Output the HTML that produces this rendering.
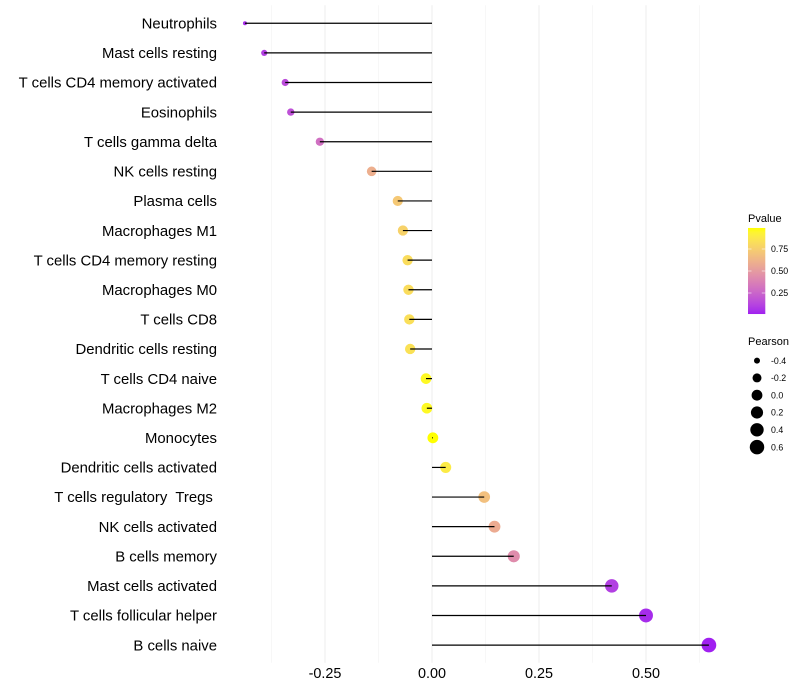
<!DOCTYPE html>
<html>
<head>
<meta charset="utf-8">
<style>
html,body{margin:0;padding:0;background:#fff;width:800px;height:700px;overflow:hidden}
svg{display:block}
text{font-family:"Liberation Sans",sans-serif;white-space:pre}
</style>
</head>
<body>
<svg id="chart" xmlns="http://www.w3.org/2000/svg" width="800" height="700" viewBox="0 0 800 700"></svg>
<script>
const categories = ["Neutrophils","Mast cells resting","T cells CD4 memory activated","Eosinophils","T cells gamma delta","NK cells resting","Plasma cells","Macrophages M1","T cells CD4 memory resting","Macrophages M0","T cells CD8","Dendritic cells resting","T cells CD4 naive","Macrophages M2","Monocytes","Dendritic cells activated","T cells regulatory  Tregs ","NK cells activated","B cells memory","Mast cells activated","T cells follicular helper","B cells naive"];
const pearson = [-0.437,-0.392,-0.343,-0.33,-0.262,-0.141,-0.08,-0.068,-0.057,-0.055,-0.053,-0.051,-0.014,-0.012,0.002,0.032,0.122,0.146,0.191,0.42,0.5,0.647];
const pvalues = [0.05,0.1,0.15,0.17,0.3,0.6,0.72,0.77,0.82,0.82,0.83,0.84,0.96,0.96,0.99,0.89,0.68,0.58,0.43,0.1,0.04,0.01];
const xTicks = [-0.25,0,0.25,0.5];
const xTickLabels = ["-0.25","0.00","0.25","0.50"];
const xMinor = [-0.375,-0.125,0.125,0.375,0.625];
const colorTicks = [0.75,0.5,0.25];
const colorTickLabels = ["0.75","0.50","0.25"];
const sizeLevels = [-0.4,-0.2,0,0.2,0.4,0.6];
const sizeLabels = ["-0.4","-0.2","0.0","0.2","0.4","0.6"];

const NS = "http://www.w3.org/2000/svg";
const svg = document.getElementById("chart");
const panelTop = 5.2, panelBottom = 662.8;
const xScale = v => 432 + 428 * v;
const yScale = i => 23.28 + 29.61 * i;
const pMin = 0.011, pMax = 0.989;
const sMin = -0.437, sMax = 0.647;
const sizeScale = v => {
  const t = Math.max(0, (v - sMin) / (sMax - sMin));
  const s = 1 + 5 * Math.sqrt(t);
  return (2.13 * s + 1.9) / 2;
};
const barY = p => 271 + (0.5 - p) * 88;

function srgb2lin(c){c/=255;return c<=0.04045?c/12.92:Math.pow((c+0.055)/1.055,2.4);}
function lin2srgb(c){c=Math.max(0,Math.min(1,c));return 255*(c<=0.0031308?12.92*c:1.055*Math.pow(c,1/2.4)-0.055);}
function toLab(rgb){
  const r=srgb2lin(rgb[0]),g=srgb2lin(rgb[1]),b=srgb2lin(rgb[2]);
  const X=(0.4124*r+0.3576*g+0.1805*b)/0.95047,Y=0.2126*r+0.7152*g+0.0722*b,Z=(0.0193*r+0.1192*g+0.9505*b)/1.08883;
  const f=t=>t>0.008856?Math.cbrt(t):7.787*t+16/116;
  return [116*f(Y)-16,500*(f(X)-f(Y)),200*(f(Y)-f(Z))];
}
function fromLab(l){
  const fy=(l[0]+16)/116,fx=fy+l[1]/500,fz=fy-l[2]/200;
  const g=t=>t*t*t>0.008856?t*t*t:(t-16/116)/7.787;
  const X=g(fx)*0.95047,Y=g(fy),Z=g(fz)*1.08883;
  const r=3.2406*X-1.5372*Y-0.4986*Z,gg=-0.9689*X+1.8758*Y+0.0415*Z,b=0.0557*X-0.204*Y+1.057*Z;
  return "rgb("+Math.round(lin2srgb(r))+","+Math.round(lin2srgb(gg))+","+Math.round(lin2srgb(b))+")";
}
const labLow = toLab([160,32,240]), labHigh = toLab([255,255,0]);
function colorScale(p){
  const t = Math.max(0, Math.min(1, (p - pMin) / (pMax - pMin)));
  return fromLab([0,1,2].map(k => labLow[k] + (labHigh[k] - labLow[k]) * t));
}
function mk(tag, attrs, parent, txt){
  const el = document.createElementNS(NS, tag);
  for (const k in attrs) el.setAttribute(k, attrs[k]);
  if (txt !== undefined) el.textContent = txt;
  (parent || svg).appendChild(el);
  return el;
}

// minor gridlines
xMinor.forEach(v => {
  const el = mk("line", {x1:xScale(v),x2:xScale(v),y1:panelTop,y2:panelBottom,stroke:"#f5f5f5","stroke-width":0.8});
  
  
});
// major gridlines and tick labels
xTicks.forEach((v, i) => {
  const el = mk("line", {x1:xScale(v),x2:xScale(v),y1:panelTop,y2:panelBottom,stroke:"#eeeeee","stroke-width":1.1});
  
  
  const t = mk("text", {x:xScale(v),y:678,"text-anchor":"middle","font-size":14.4,fill:"#000"}, null, xTickLabels[i]);
  
  
});
// category labels
categories.forEach((c, i) => {
  const t = mk("text", {x:217,y:yScale(i)+5.2,"text-anchor":"end","font-size":14.9,fill:"#000"}, null, c);
  
  
});
// points
categories.forEach((c, i) => {
  const el = mk("circle", {cx:xScale(pearson[i]),cy:yScale(i),r:sizeScale(pearson[i]),fill:colorScale(pvalues[i])});
  
  
});
// stems, drawn above the points
categories.forEach((c, i) => {
  const el = mk("line", {x1:xScale(0),x2:xScale(pearson[i]),y1:yScale(i),y2:yScale(i),stroke:"#000","stroke-width":1.2});
  
  
});

// Pvalue legend
const pTitle = mk("text", {x:748,y:222,"font-size":11,fill:"#000"}, null, "Pvalue");


const defs = mk("defs", {});
const grad = mk("linearGradient", {id:"pgrad",x1:0,x2:0,y1:0,y2:1}, defs);
for (let k = 0; k <= 20; k++) {
  mk("stop", {offset:(k/20),"stop-color":colorScale(pMax - (pMax-pMin)*k/20)}, grad);
}
const bar = mk("rect", {x:748,y:barY(pMax),width:17.3,height:barY(pMin)-barY(pMax),fill:"url(#pgrad)"});


colorTicks.forEach((v, i) => {
  const a = mk("line", {x1:748,x2:751.5,y1:barY(v),y2:barY(v),stroke:"#fff","stroke-opacity":0.7,"stroke-width":0.8});
  
  
  const b = mk("line", {x1:761.8,x2:765.3,y1:barY(v),y2:barY(v),stroke:"#fff","stroke-opacity":0.7,"stroke-width":0.8});
  
  
  const t = mk("text", {x:771,y:barY(v)+3.2,"font-size":8.8,fill:"#000"}, null, colorTickLabels[i]);
  
  
});

// Pearson legend
const sTitle = mk("text", {x:748,y:345,"font-size":11,fill:"#000"}, null, "Pearson");


sizeLevels.forEach((v, i) => {
  const cy = 360.6 + 17.3 * i;
  const c = mk("circle", {cx:757,cy:cy,r:sizeScale(v),fill:"#000"});
  
  
  const t = mk("text", {x:771,y:cy+3.2,"font-size":8.8,fill:"#000"}, null, sizeLabels[i]);
  
  
});
</script>
</body>
</html>
